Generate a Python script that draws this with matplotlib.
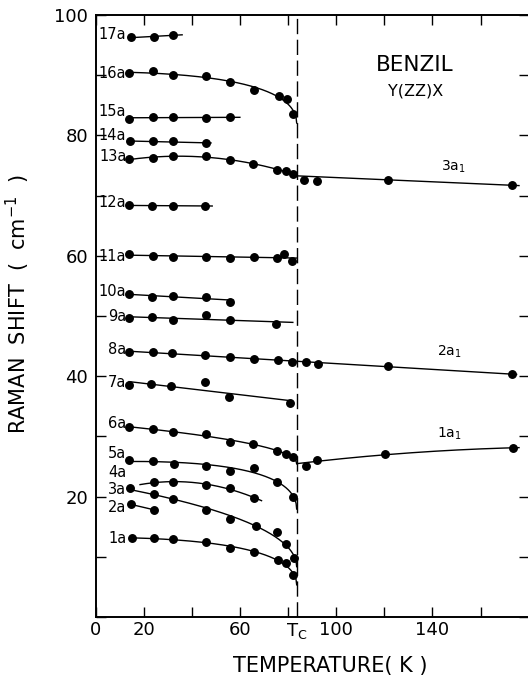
import numpy as np
import matplotlib.pyplot as plt

TC = 83.6  # transition temperature (K)

# low temperature modes: temperature (K) and Raman shift (cm-1)
t_17a = [14.8, 24.4, 32.0]
v_17a = [96.3, 96.3, 96.7]
t_16a = [14.0, 24.0, 32.0, 46.0, 56.0, 66.0, 76.4, 79.5, 82.2]
v_16a = [90.3, 90.7, 90.0, 89.8, 88.8, 87.5, 86.6, 86.0, 83.6]
t_15a = [14.0, 24.0, 32.0, 46.0, 56.0]
v_15a = [82.8, 83.1, 83.0, 82.9, 83.0]
t_14a = [14.5, 24.0, 32.0, 46.0]
v_14a = [79.0, 79.0, 79.0, 78.7]
t_13a = [14.0, 24.0, 32.0, 46.0, 56.0, 65.5, 75.5, 79.0, 82.0]
v_13a = [76.0, 76.3, 76.6, 76.5, 75.9, 75.2, 74.3, 74.1, 73.6]
t_12a = [13.8, 23.4, 32.0, 45.5]
v_12a = [68.4, 68.3, 68.3, 68.3]
t_11a = [14.0, 24.0, 32.0, 46.0, 56.0, 66.0, 75.5, 78.5, 81.5]
v_11a = [60.25, 60.0, 59.85, 59.85, 59.7, 59.8, 59.7, 60.3, 59.1]
t_10a = [14.0, 23.5, 32.0, 46.0, 56.0]
v_10a = [53.6, 53.2, 53.3, 53.2, 52.4]
t_9a = [14.0, 23.6, 32.0, 46.0, 56.0, 75.0]
v_9a = [49.6, 49.9, 49.3, 50.2, 49.3, 48.7]
t_8a = [14.0, 24.0, 31.6, 45.5, 56.0, 66.0, 76.0, 81.8]
v_8a = [44.0, 44.1, 43.8, 43.5, 43.2, 42.8, 42.7, 42.4]
t_7a = [14.0, 23.0, 31.5, 45.5, 55.5, 80.8]
v_7a = [38.5, 38.65, 38.4, 39.0, 36.6, 35.6]
t_6a = [14.0, 24.0, 32.0, 46.0, 56.0, 65.5, 75.5, 79.0, 82.0]
v_6a = [31.5, 31.2, 30.8, 30.4, 29.1, 28.7, 27.6, 27.1, 26.5]
t_5a = [14.0, 24.0, 32.5, 46.0, 56.0, 66.0, 75.5, 82.0]
v_5a = [26.1, 25.9, 25.4, 25.1, 24.3, 24.8, 22.5, 20.0]
t_4a = [24.4, 32.0, 46.0, 56.0, 66.0]
v_4a = [22.4, 22.4, 21.9, 21.5, 19.7]
t_3a = [14.5, 24.4, 32.0, 46.0, 56.0, 66.5, 75.5, 79.0, 82.3]
v_3a = [21.4, 20.4, 19.6, 17.7, 16.3, 15.2, 14.1, 12.1, 9.75]
t_2a = [14.8, 24.4]
v_2a = [18.7, 17.8]
t_1a = [15.0, 24.2, 32.0, 46.0, 56.0, 66.0, 75.7, 79.0, 82.2]
v_1a = [13.1, 13.1, 12.9, 12.4, 11.5, 10.8, 9.5, 8.9, 7.0]

# high temperature modes
t_3a1 = [86.7, 91.9, 121.4, 173.2]
v_3a1 = [72.6, 72.5, 72.6, 71.8]
t_2a1 = [87.5, 92.3, 121.7, 173.2]
v_2a1 = [42.3, 42.1, 41.7, 40.4]
t_1a1 = [87.5, 92.0, 120.5, 173.3]
v_1a1 = [25.1, 26.0, 27.0, 28.1]


def basis(x, kind):
    x = np.asarray(x, dtype=float)
    cols = [np.ones_like(x), x]
    if kind == 'quad':
        cols.append(x**2)
    if kind == 'crit':
        cols.append(np.sqrt(np.clip(TC - x, 0, None)))
    return np.column_stack(cols)


def fit(t, v, kind, t0, t1, w=None):
    t = np.asarray(t, dtype=float)
    v = np.asarray(v, dtype=float)
    w = np.ones_like(t) if w is None else np.asarray(w, dtype=float)
    coef = np.linalg.lstsq(basis(t, kind) * w[:, None], v * w, rcond=None)[0]
    tt = np.linspace(t0, t1, 300)
    return tt, basis(tt, kind) @ coef


fig = plt.figure(figsize=(5.28, 6.75), dpi=100)
ax = fig.add_axes([0.1809, 0.0859, 0.8203, 0.8919])

line_kw = dict(color='black', lw=1.0)
dot_kw = dict(color='black', marker='o', ms=5.4, ls='none', zorder=3)

modes = [
    ('17a', t_17a, v_17a, 'lin', 36.0),
    ('16a', t_16a, v_16a, 'crit', TC),
    ('15a', t_15a, v_15a, 'lin', 60.0),
    ('14a', t_14a, v_14a, 'lin', 48.0),
    ('13a', t_13a, v_13a, 'quad', TC),
    ('12a', t_12a, v_12a, 'lin', 48.5),
    ('11a', t_11a, v_11a, 'lin', TC),
    ('10a', t_10a, v_10a, 'lin', 57.3),
    ('9a', t_9a, v_9a, 'lin', 82.0),
    ('7a', t_7a, v_7a, 'lin', 80.5),
    ('6a', t_6a, v_6a, 'crit', TC),
    ('5a', t_5a, v_5a, 'crit', TC),
    ('4a', t_4a, v_4a, 'quad', 69.0),
    ('3a', t_3a, v_3a, 'crit', TC),
    ('2a', t_2a, v_2a, 'lin', t_2a[-1]),
    ('1a', t_1a, v_1a, 'crit', TC),
]
label_dy = {'16a': 0.0, '15a': 1.1, '14a': 0.9, '13a': 0.5, '11a': -0.4, '6a': 0.6,
            '5a': 1.1, '4a': 1.6, '3a': -0.2, '2a': -0.5, '1a': 0.0}
line_start = {'4a': 18.5}

ends = {}
for name, t, v, kind, t1 in modes:
    t0 = line_start.get(name, t[0])
    tt, vv = fit(t, v, kind, t0, t1)
    ends[name] = vv[-1]
    ax.plot(tt, vv, **line_kw)
    ax.plot(t, v, **dot_kw)
    ax.text(12.8, v[0] + label_dy.get(name, 0.4), name, ha='right', va='center', fontsize=10.5)

# 8a continues through Tc as 2a1
tt, vv = fit(t_8a + t_2a1, v_8a + v_2a1, 'lin', t_8a[0], 175.0)
ax.plot(tt, vv, **line_kw)
ax.plot(t_8a, v_8a, **dot_kw)
ax.plot(t_2a1, v_2a1, **dot_kw)
ax.text(12.8, v_8a[0] + 0.4, '8a', ha='right', va='center', fontsize=10.5)

# 13a -> 3a1 and 6a -> 1a1 above Tc
tt, vv = fit([TC] + t_3a1, [ends['13a']] + v_3a1, 'lin', TC, 176.0, w=[3, 1, 1, 1, 1])
ax.plot(tt, vv, **line_kw)
ax.plot(t_3a1, v_3a1, **dot_kw)
tt, vv = fit([TC] + t_1a1, [ends['6a']] + v_1a1, 'quad', TC, 176.0, w=[10, 1, 1, 1, 1])
ax.plot(tt, vv, **line_kw)
ax.plot(t_1a1, v_1a1, **dot_kw)

sub_kw = dict(ha='left', va='center', fontsize=10)
ax.text(143.6, 74.7, r'3a$_\mathregular{1}$', **sub_kw)
ax.text(141.8, 44.1, r'2a$_\mathregular{1}$', **sub_kw)
ax.text(141.8, 30.4, r'1a$_\mathregular{1}$', **sub_kw)

ax.text(132.5, 91.7, 'BENZIL', ha='center', va='center', fontsize=15.5)
ax.text(133.0, 87.4, 'Y(ZZ)X', ha='center', va='center', fontsize=11.5)

ax.axvline(TC, color='black', lw=1.0, dashes=(11, 4))

ax.set_xlim(0, 180)
ax.set_ylim(0, 100)
ax.set_xticks(range(0, 161, 20), ['0', '20', '', '60', '', '100', '', '140', ''])
ax.set_xticks([TC], [r'$\mathregular{T_C}$'], minor=True)
ax.set_yticks(range(0, 101, 10), ['', '', '20', '', '40', '', '60', '', '80', '', '100'])
ax.tick_params(which='major', direction='in', length=7, width=1.0, labelsize=13,
               top=True, right=True)
ax.tick_params(axis='y', pad=5.5)
ax.tick_params(axis='x', pad=3)
ax.tick_params(which='minor', axis='x', length=0, labelsize=13, pad=3)
for s in ax.spines.values():
    s.set_linewidth(1.4)
ax.spines['right'].set_visible(False)

ax.set_xlabel('TEMPERATURE( K )', fontsize=15)
ax.xaxis.set_label_coords(0.543, -0.064)
ax.set_ylabel(r'RAMAN  SHIFT  (  cm$^{-1}$  )', fontsize=15)
ax.yaxis.set_label_coords(-0.147, 0.52)

fig.savefig('out.png', dpi=100)
